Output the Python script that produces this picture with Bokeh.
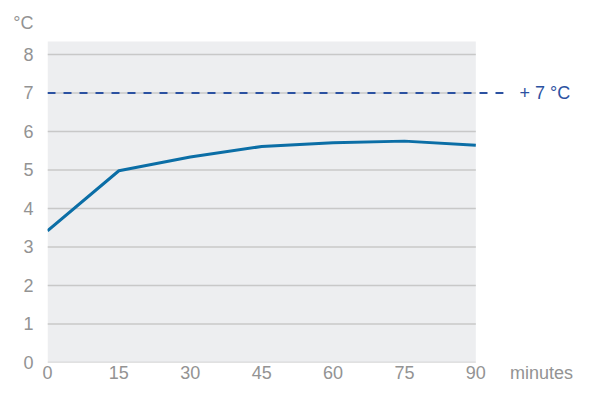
from bokeh.plotting import figure
from bokeh.models import FixedTicker, Range1d, ColumnDataSource
from bokeh.embed import file_html
from bokeh.resources import INLINE
from bokeh.core.properties import value

# data
minutes = [0, 15, 30, 45, 60, 75, 90]
temperature = [3.42, 4.98, 5.34, 5.61, 5.71, 5.75, 5.64]
y_ticks = [0, 1, 2, 3, 4, 5, 6, 7, 8]
threshold = 7
threshold_label = "+ 7 °C"
unit_label = "°C"
x_unit_label = "minutes"

FONT = "Liberation Sans"
GRAY_TXT = "#939393"
BLUE_LINE = "#0b6ea6"
BLUE_DASH = "#2b51a1"

W, H = 573, 385
ML = 47
FW, FH = W - ML, 362
px_per_min = 4.759
px_per_deg = 38.5

p = figure(frame_width=FW, frame_height=FH, output_backend="svg", toolbar_location=None,
           x_range=Range1d(0, FW / px_per_min),
           y_range=Range1d(0, FH / px_per_deg),
           min_border_left=ML, min_border_right=0, min_border_top=0,
           min_border_bottom=H - FH)
p.outline_line_color = None
p.background_fill_color = "white"
p.border_fill_color = "white"
p.xgrid.visible = False
p.ygrid.visible = False

x_max = minutes[-1]
plot_top = 8.34

# gray plot area
p.quad(left=[minutes[0]], right=[x_max], bottom=[y_ticks[0]], top=[plot_top],
       fill_color="#edeef0", line_color=None)

# gridlines
p.segment(x0=[minutes[0]] * len(y_ticks), x1=[x_max] * len(y_ticks),
          y0=y_ticks, y1=y_ticks, line_color="#c8c8c8", line_width=1.5)

# threshold dashed line and label
dash_end = 95.8
label_x = 99.2
p.segment(x0=[minutes[0]], x1=[dash_end], y0=[threshold], y1=[threshold],
          line_color=BLUE_DASH, line_width=2, line_dash="8 8")
p.text(x=[label_x], y=[threshold], text=[threshold_label],
       text_font=value(FONT), text_font_size="18px", text_color=BLUE_DASH,
       text_align="left", text_baseline="middle")

# temperature line
src = ColumnDataSource(dict(x=minutes, y=temperature))
p.line("x", "y", source=src, line_color=BLUE_LINE, line_width=3)

# axes
unit_pos = 8.81
minutes_pos = 103.8
p.yaxis.ticker = FixedTicker(ticks=y_ticks + [unit_pos])
p.yaxis.major_label_overrides = {unit_pos: unit_label}
p.xaxis.ticker = FixedTicker(ticks=minutes + [minutes_pos])
p.xaxis.major_label_overrides = {minutes_pos: x_unit_label}
for ax in (p.xaxis[0], p.yaxis[0]):
    ax.axis_line_color = None
    ax.major_tick_line_color = None
    ax.minor_tick_line_color = None
    ax.major_tick_out = 0
    ax.major_tick_in = 0
    ax.minor_tick_out = 0
    ax.minor_tick_in = 0
    ax.major_label_text_font = FONT
    ax.major_label_text_font_size = "18px"
    ax.major_label_text_color = GRAY_TXT
p.yaxis.major_label_standoff = 14
p.xaxis.major_label_standoff = 0

open("out.html", "w").write(file_html(p, INLINE))
